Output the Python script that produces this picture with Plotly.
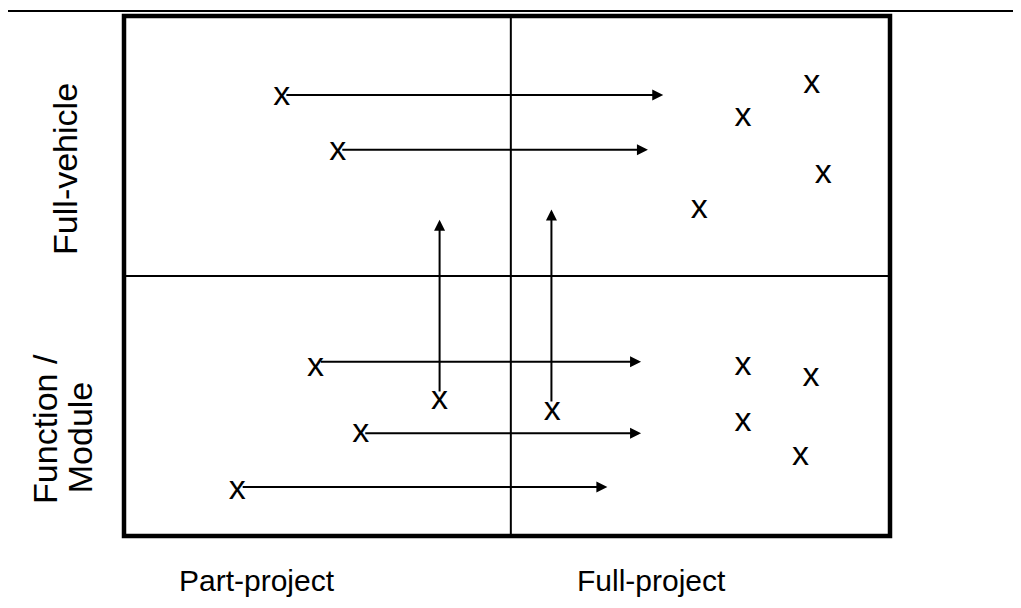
import plotly.graph_objects as go

# quadrant chart: scope (x) vs level (y), scale 0..10 on both axes
x_split = 5.05
y_split = 5.0

# projects that move (arrow start -> arrow end)
h_start_x = [2.10, 2.83, 2.55, 3.13, 1.53]
h_end_x = [7.04, 6.84, 6.75, 6.75, 6.31]
h_y = [8.48, 7.43, 3.35, 1.975, 0.94]

v_x = [4.12, 5.58]
v_start_y = [2.75, 2.56]
v_end_y = [6.08, 6.28]

# all project marks
mark_x = [2.06, 2.79, 2.50, 3.09, 1.48, 4.12, 5.59, 8.98, 8.08, 9.13, 7.51, 8.08, 8.97, 8.08, 8.83]
mark_y = [8.47, 7.42, 3.27, 2.00, 0.90, 2.62, 2.42, 8.70, 8.07, 6.97, 6.30, 3.28, 3.07, 2.20, 1.55]

x_labels = ["Part-project", "Full-project"]
y_labels = ["Function /", "Module", "Full-vehicle"]

FONT = "Arial, Liberation Sans, sans-serif"

fig = go.Figure()

fig.add_trace(go.Scatter(
    x=mark_x, y=[v - 0.02 for v in mark_y], mode="text", text=["x"] * len(mark_x),
    textposition="middle center", textfont=dict(family=FONT, size=34, color="black"),
    hoverinfo="skip", showlegend=False
))

annotations = []
for x0, x1, y in zip(h_start_x, h_end_x, h_y):
    annotations.append(dict(
        x=x1, y=y, ax=x0, ay=y, xref="x", yref="y", axref="x", ayref="y",
        showarrow=True, arrowhead=2, arrowsize=1.1, arrowwidth=2, arrowcolor="black", text=""
    ))
for x, y0, y1 in zip(v_x, v_start_y, v_end_y):
    annotations.append(dict(
        x=x, y=y1, ax=x, ay=y0, xref="x", yref="y", axref="x", ayref="y",
        showarrow=True, arrowhead=2, arrowsize=1.1, arrowwidth=2, arrowcolor="black", text=""
    ))

# axis category labels
lab = dict(xref="paper", yref="paper", showarrow=False)
annotations.append(dict(lab, x=0.174, y=-0.0865, xanchor="center", yanchor="middle", text=x_labels[0],
                        font=dict(family=FONT, size=30, color="black")))
annotations.append(dict(lab, x=0.688, y=-0.0865, xanchor="center", yanchor="middle", text=x_labels[1],
                        font=dict(family=FONT, size=30, color="black")))
annotations.append(dict(lab, x=-0.077, y=0.706, xanchor="center", yanchor="middle", text=y_labels[2],
                        textangle=-90, font=dict(family=FONT, size=34, color="black")))
annotations.append(dict(lab, x=-0.103, y=0.058, xanchor="center", yanchor="bottom", text=y_labels[0],
                        textangle=-90, font=dict(family=FONT, size=34, color="black")))
annotations.append(dict(lab, x=-0.057, y=0.079, xanchor="center", yanchor="bottom", text=y_labels[1],
                        textangle=-90, font=dict(family=FONT, size=34, color="black")))

shapes = [
    # outer box
    dict(type="rect", xref="paper", yref="paper", x0=0, x1=1, y0=0, y1=1,
         line=dict(color="black", width=4.5)),
    # quadrant dividers
    dict(type="line", xref="x", yref="paper", x0=x_split, x1=x_split, y0=0, y1=1,
         line=dict(color="black", width=2)),
    dict(type="line", xref="paper", yref="y", x0=0, x1=1, y0=y_split, y1=y_split,
         line=dict(color="black", width=2)),
    # rule across the top of the page
    dict(type="line", xref="paper", yref="paper", x0=-0.16, x1=1.18, y0=1.0096, y1=1.0096,
         line=dict(color="black", width=2)),
]

# page body has an 8px margin, so the figure is 8px smaller and margins are shifted
fig.update_layout(
    width=1013, height=600,
    margin=dict(l=116, r=131, t=8, b=72),
    plot_bgcolor="white", paper_bgcolor="white",
    xaxis=dict(range=[0, 10], visible=False, fixedrange=True),
    yaxis=dict(range=[0, 10], visible=False, fixedrange=True),
    annotations=annotations,
    shapes=shapes,
    showlegend=False,
)

fig.write_html("out.html")
